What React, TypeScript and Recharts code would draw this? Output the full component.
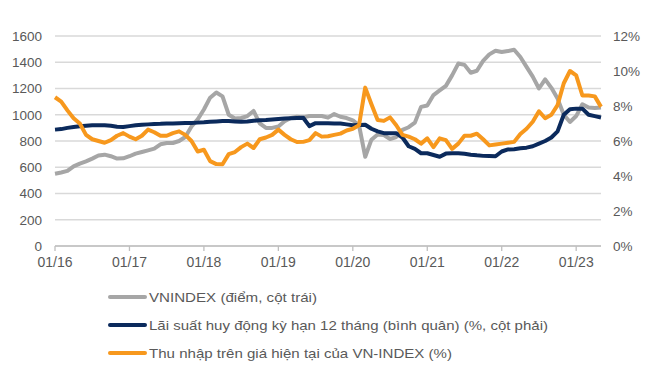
import React from 'react';
import { LineChart, Line, XAxis, YAxis, CartesianGrid } from 'recharts';

// monthly points, 01/2016 .. 05/2023
const vnindex = [
  551, 560, 572, 607, 628, 645, 666, 689, 696, 684, 666, 668,
  684, 704, 716, 729, 742, 775, 785, 785, 800, 830, 910, 965,
  1040, 1130, 1170, 1140, 1000, 971, 975, 990, 1029, 935, 900, 900,
  910, 950, 975, 985, 980, 990, 990, 990, 978, 1005, 985, 975,
  958, 920, 680, 810, 850, 845, 815, 830, 885, 905, 940, 1060,
  1070, 1150, 1185, 1220, 1300, 1390, 1380, 1320, 1335, 1410, 1460, 1488,
  1478, 1485, 1495, 1440, 1365, 1290, 1200, 1270, 1205, 1123, 1000, 945,
  990, 1080, 1055, 1052, 1055,
];

const depositRate = [
  6.65, 6.68, 6.75, 6.8, 6.84, 6.87, 6.9, 6.9, 6.9, 6.87, 6.82, 6.8,
  6.85, 6.9, 6.93, 6.95, 6.97, 6.98, 7.0, 7.0, 7.02, 7.03, 7.03, 7.05,
  7.07, 7.1, 7.12, 7.14, 7.14, 7.12, 7.1, 7.12, 7.16, 7.18, 7.2, 7.23,
  7.26, 7.28, 7.3, 7.32, 7.33, 6.85, 7.02, 7.02, 7.02, 7.0, 7.0, 6.95,
  6.9, 6.92, 6.93, 6.7, 6.55, 6.45, 6.45, 6.45, 6.2, 5.7, 5.55, 5.3,
  5.3, 5.2, 5.1, 5.28, 5.3, 5.3, 5.27, 5.22, 5.18, 5.15, 5.14, 5.13,
  5.4, 5.52, 5.53, 5.58, 5.62, 5.7, 5.85, 6.0, 6.2, 6.55, 7.5, 7.82,
  7.85, 7.85, 7.5, 7.42, 7.34,
];

const earningsYield = [
  8.5, 8.25, 7.75, 7.3, 7.0, 6.35, 6.1, 6.0, 5.9, 6.05, 6.3, 6.45,
  6.25, 6.1, 6.3, 6.65, 6.5, 6.3, 6.3, 6.45, 6.55, 6.35, 6.0, 5.4,
  5.5, 4.85, 4.68, 4.67, 5.25, 5.37, 5.65, 5.85, 5.6, 6.1, 6.2, 6.35,
  6.65, 6.35, 6.1, 5.94, 5.95, 6.05, 6.45, 6.25, 6.27, 6.35, 6.42, 6.6,
  6.7, 6.9, 9.05, 8.1, 7.2, 7.15, 7.35, 6.9, 6.35, 6.25, 6.1, 5.85,
  6.15, 5.65, 6.15, 6.05, 5.55, 5.85, 6.3, 6.3, 6.42, 6.1, 5.75, 5.8,
  5.85, 5.9, 5.95, 6.4, 6.7, 7.1, 7.7, 7.3, 7.5, 8.05, 9.3, 10.0,
  9.75, 8.6, 8.6, 8.55, 7.95,
];

const yearLabels = ['01/16', '01/17', '01/18', '01/19', '01/20', '01/21', '01/22', '01/23'];
const leftTicks = [0, 200, 400, 600, 800, 1000, 1200, 1400, 1600];
const rightTicks = [0, 2, 4, 6, 8, 10, 12];

const seriesNames = [
  'VNINDEX (điểm, cột trái)',
  'Lãi suất huy động kỳ hạn 12 tháng (bình quân) (%, cột phải)',
  'Thu nhập trên giá hiện tại của VN-INDEX (%)',
];

const GRAY = '#a6a6a6';
const NAVY = '#0b2a5c';
const ORANGE = '#f7981d';
const TEXT = '#595959';
const FONT = '"Liberation Sans", Arial, sans-serif';

const data = vnindex.map((v, i) => ({
  m: i,
  vn: v,
  rate: depositRate[i],
  ey: earningsYield[i],
}));

// legend look: colour and stretched text width per row
const legendColors = [GRAY, NAVY, ORANGE];
const legendTextWidths = [168, 399, 303];

export default function App() {
  return (
    <div style={{ position: 'absolute', left: 0, top: 0, width: 653, height: 377, background: '#fff', fontFamily: FONT }}>
      <LineChart width={653} height={280} data={data} margin={{ top: 36, right: 0, bottom: 0, left: 0 }}>
        <CartesianGrid yAxisId="left" vertical={false} stroke="#d9d9d9" strokeWidth={1.3} />
        <XAxis
          dataKey="m"
          type="number"
          domain={[0, 88]}
          ticks={yearLabels.map((_, i) => i * 12)}
          tickFormatter={(v: number) => yearLabels[v / 12]}
          height={34}
          stroke="#bfbfbf"
          strokeWidth={1.3}
          tickSize={5}
          tickMargin={6}
          tick={{ fill: TEXT, fontSize: 14, fontFamily: FONT }}
        />
        <YAxis
          yAxisId="left"
          domain={[0, 1600]}
          ticks={leftTicks}
          width={55}
          axisLine={false}
          tickLine={false}
          tickSize={6}
          tickMargin={7}
          tick={{ fill: TEXT, fontSize: 13.5, fontFamily: FONT }}
        />
        <YAxis
          yAxisId="right"
          orientation="right"
          domain={[0, 12]}
          ticks={rightTicks}
          tickFormatter={(v: number) => `${v}%`}
          width={52}
          axisLine={false}
          tickLine={false}
          tickSize={6}
          tickMargin={6}
          tick={{ fill: TEXT, fontSize: 13.5, fontFamily: FONT }}
        />
        <Line yAxisId="left" dataKey="vn" stroke={GRAY} strokeWidth={4} dot={false} isAnimationActive={false} strokeLinejoin="round" />
        <Line yAxisId="right" dataKey="rate" stroke={NAVY} strokeWidth={4} dot={false} isAnimationActive={false} strokeLinejoin="round" />
        <Line yAxisId="right" dataKey="ey" stroke={ORANGE} strokeWidth={4} dot={false} isAnimationActive={false} strokeLinejoin="round" />
      </LineChart>
      <svg width={653} height={97} style={{ position: 'absolute', left: 0, top: 280 }}>
        {seriesNames.map((name, i) => (
          <g key={name}>
            <line x1={110} x2={145} y1={17 + i * 28} y2={17 + i * 28} stroke={legendColors[i]} strokeWidth={4} strokeLinecap="round" />
            <text
              x={149}
              y={17 + i * 28}
              dy="0.35em"
              fill={TEXT}
              fontSize={13.5}
              fontFamily={FONT}
              textLength={legendTextWidths[i]}
              lengthAdjust="spacingAndGlyphs"
            >
              {name}
            </text>
          </g>
        ))}
      </svg>
    </div>
  );
}
